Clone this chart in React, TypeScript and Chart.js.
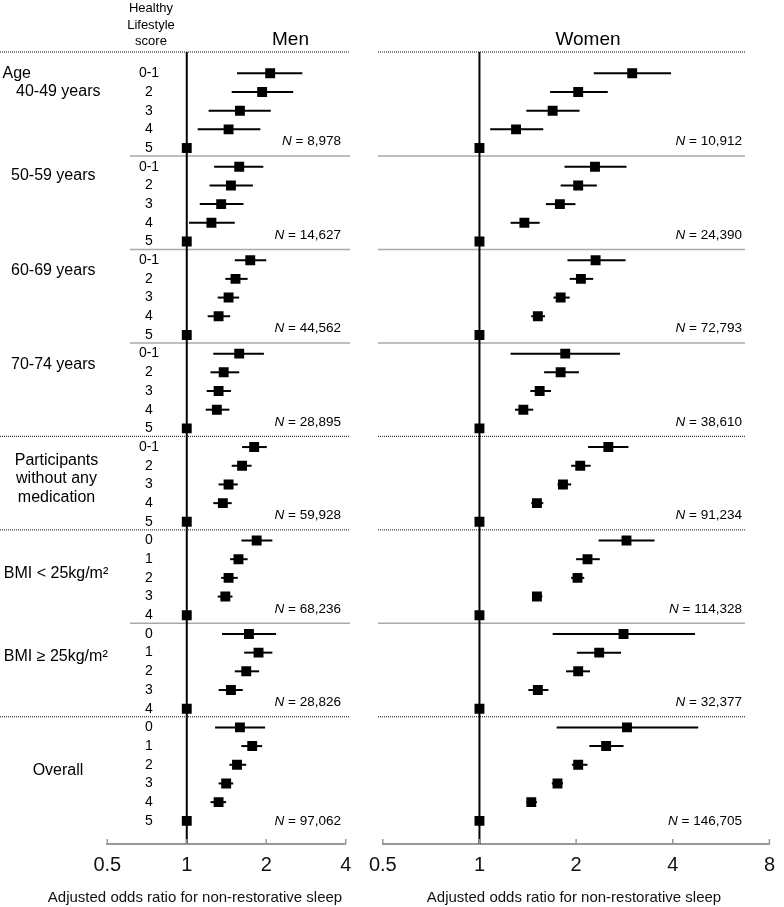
import React, { useEffect, useRef } from 'react';
import { Chart, registerables } from 'chart.js';

Chart.register(...registerables);

const FONT = '"Liberation Sans", Arial, Helvetica, sans-serif';

// ---------------- data ----------------
const ageScores = ['0-1', '2', '3', '4', '5'];
const bmiScores = ['0', '1', '2', '3', '4'];
const overallScores = ['0', '1', '2', '3', '4', '5'];
const groupScores = [ageScores, ageScores, ageScores, ageScores, ageScores, bmiScores, bmiScores, overallScores];
const groupNames = [
  ['Age', '40-49 years'],
  ['50-59 years'],
  ['60-69 years'],
  ['70-74 years'],
  ['Participants', 'without any', 'medication'],
  ['BMI < 25kg/m²'],
  ['BMI ≥ 25kg/m²'],
  ['Overall'],
];
const menN = ['8,978', '14,627', '44,562', '28,895', '59,928', '68,236', '28,826', '97,062'];
const womenN = ['10,912', '24,390', '72,793', '38,610', '91,234', '114,328', '32,377', '146,705'];

const menOR = [
  2.07, 1.93, 1.59, 1.44, 1,
  1.58, 1.47, 1.35, 1.24, 1,
  1.74, 1.53, 1.44, 1.32, 1,
  1.58, 1.38, 1.32, 1.30, 1,
  1.80, 1.62, 1.44, 1.37, 1,
  1.84, 1.57, 1.44, 1.40, 1,
  1.72, 1.87, 1.68, 1.47, 1,
  1.59, 1.77, 1.55, 1.41, 1.32, 1,
];
const menLo = [
  1.55, 1.48, 1.21, 1.10, 1,
  1.27, 1.22, 1.12, 1.02, 1,
  1.52, 1.40, 1.31, 1.20, 1,
  1.26, 1.23, 1.19, 1.18, 1,
  1.62, 1.48, 1.32, 1.26, 1,
  1.61, 1.46, 1.35, 1.31, 1,
  1.36, 1.65, 1.52, 1.32, 1,
  1.28, 1.61, 1.45, 1.32, 1.23, 1,
];
const menHi = [
  2.74, 2.53, 2.08, 1.90, 1,
  1.95, 1.78, 1.64, 1.52, 1,
  2.00, 1.70, 1.58, 1.46, 1,
  1.96, 1.58, 1.47, 1.45, 1,
  2.01, 1.76, 1.56, 1.48, 1,
  2.11, 1.70, 1.56, 1.49, 1,
  2.18, 2.11, 1.88, 1.63, 1,
  1.98, 1.93, 1.68, 1.50, 1.41, 1,
];
const womenOR = [
  2.99, 2.03, 1.69, 1.30, 1,
  2.29, 2.03, 1.78, 1.38, 1,
  2.30, 2.07, 1.79, 1.52, 1,
  1.85, 1.79, 1.54, 1.37, 1,
  2.52, 2.06, 1.82, 1.51, 1,
  2.87, 2.17, 2.02, 1.51, 1,
  2.81, 2.36, 2.03, 1.52, 1,
  2.88, 2.48, 2.03, 1.75, 1.45, 1,
];
const womenLo = [
  2.27, 1.66, 1.40, 1.08, 1,
  1.84, 1.79, 1.61, 1.25, 1,
  1.88, 1.91, 1.70, 1.45, 1,
  1.25, 1.59, 1.44, 1.29, 1,
  2.18, 1.93, 1.75, 1.45, 1,
  2.35, 2.00, 1.93, 1.46, 1,
  1.69, 2.01, 1.86, 1.42, 1,
  1.74, 2.20, 1.94, 1.68, 1.40, 1,
];
const womenHi = [
  3.95, 2.51, 2.05, 1.58, 1,
  2.87, 2.32, 1.99, 1.54, 1,
  2.85, 2.26, 1.91, 1.60, 1,
  2.74, 2.04, 1.67, 1.47, 1,
  2.91, 2.22, 1.93, 1.58, 1,
  3.51, 2.37, 2.12, 1.57, 1,
  4.69, 2.76, 2.21, 1.64, 1,
  4.80, 2.81, 2.17, 1.82, 1.51, 1,
];
const xTicksMen = [0.5, 1, 2, 4];
const xTicksWomen = [0.5, 1, 2, 4, 8];
const axisTitle = 'Adjusted odds ratio for non-restorative sleep';
const headerLines = ['Healthy', 'Lifestyle', 'score'];

// ---------------- layout ----------------
const W = 784;
const H = 907;
const PLOT_TOP = 52;
const PLOT_BOTTOM = 844;
const Y_MIN = -1.14;
const Y_MAX = 41.24;
const separatorKinds = ['solid', 'solid', 'solid', 'dotted', 'dotted', 'solid', 'dotted'];
const groupLabelLayout = [
  [{ x: 2.5, dy: 0, align: 'left' }, { x: 16, dy: 1, align: 'left' }],
  [{ x: 11, dy: 0.5, align: 'left' }],
  [{ x: 11, dy: 0.55, align: 'left' }],
  [{ x: 11, dy: 0.6, align: 'left' }],
  [{ x: 56.5, dy: 0.7, align: 'center' }, { x: 56.5, dy: 1.7, align: 'center' }, { x: 56.5, dy: 2.7, align: 'center' }],
  [{ x: 3.8, dy: 1.76, align: 'left' }],
  [{ x: 3.8, dy: 1.22, align: 'left' }],
  [{ x: 58, dy: 2.33, align: 'center' }],
];

const groupStart: number[] = [];
let acc = 0;
groupScores.forEach((s) => {
  groupStart.push(acc);
  acc += s.length;
});

const panels = {
  men: {
    title: 'Men', titleX: 290.5, or: menOR, lo: menLo, hi: menHi, n: menN, ticks: xTicksMen, max: 4,
    padLeft: 107.3, padRight: W - 345.7, lineX0Dotted: 0, lineX0Solid: 130, lineX1: 350,
    nRight: 341, axisTitleX: 195, left: true,
  },
  women: {
    title: 'Women', titleX: 588, or: womenOR, lo: womenLo, hi: womenHi, n: womenN, ticks: xTicksWomen, max: 8,
    padLeft: 382.8, padRight: W - 777.3, lineX0Dotted: 378, lineX0Solid: 378, lineX1: 745,
    nRight: 742, axisTitleX: 574, left: false,
  },
};

function font(size: number, style = '') {
  return `${style ? style + ' ' : ''}${size}px ${FONT}`;
}

function makePlugin(p: any) {
  return {
    id: 'forest_' + p.title,
    beforeDatasetsDraw(chart: any) {
      const { ctx, chartArea } = chart;
      const x = chart.scales.x;
      const y = chart.scales.y;
      ctx.save();
      const drawSep = (yy: number, kind: string) => {
        ctx.beginPath();
        if (kind === 'dotted') {
          ctx.setLineDash([1, 1]);
          ctx.strokeStyle = '#333';
          ctx.lineWidth = 1.2;
          ctx.moveTo(p.lineX0Dotted, yy);
        } else {
          ctx.setLineDash([]);
          ctx.strokeStyle = '#aaa';
          ctx.lineWidth = 1.5;
          ctx.moveTo(p.lineX0Solid, yy);
        }
        ctx.lineTo(p.lineX1, yy);
        ctx.stroke();
      };
      drawSep(chartArea.top, 'dotted');
      separatorKinds.forEach((k, g) => {
        const last = groupStart[g] + groupScores[g].length - 1;
        drawSep(y.getPixelForValue(last + 0.43), k);
      });
      ctx.setLineDash([]);
      ctx.strokeStyle = '#000';
      ctx.lineWidth = 2;
      p.or.forEach((_v: number, i: number) => {
        if (p.hi[i] > p.lo[i]) {
          const yy = y.getPixelForValue(i);
          ctx.beginPath();
          ctx.moveTo(x.getPixelForValue(p.lo[i]), yy);
          ctx.lineTo(x.getPixelForValue(p.hi[i]), yy);
          ctx.stroke();
        }
      });
      const x1 = x.getPixelForValue(1);
      ctx.beginPath();
      ctx.moveTo(x1, chartArea.top);
      ctx.lineTo(x1, chartArea.bottom);
      ctx.stroke();
      ctx.restore();
    },
    afterDraw(chart: any) {
      const { ctx, chartArea } = chart;
      const x = chart.scales.x;
      const y = chart.scales.y;
      ctx.save();
      // upward tick marks on axis
      ctx.strokeStyle = '#999';
      ctx.lineWidth = 1.5;
      p.ticks.forEach((v: number) => {
        const xx = x.getPixelForValue(v);
        ctx.beginPath();
        ctx.moveTo(xx, chartArea.bottom);
        ctx.lineTo(xx, chartArea.bottom - 5);
        ctx.stroke();
      });
      ctx.fillStyle = '#000';
      // panel title
      ctx.font = font(19);
      ctx.textAlign = 'center';
      ctx.textBaseline = 'alphabetic';
      ctx.fillText(p.title, p.titleX, 45);
      // axis title
      ctx.font = font(15);
      ctx.fillStyle = '#111';
      ctx.fillText(axisTitle, p.axisTitleX, 901.5);
      // N labels
      ctx.fillStyle = '#000';
      ctx.textBaseline = 'middle';
      p.n.forEach((txt: string, g: number) => {
        const last = groupStart[g] + groupScores[g].length - 1;
        const row = g === groupScores.length - 1 ? last : last - 0.34;
        const yy = y.getPixelForValue(row);
        const rest = ' = ' + txt;
        ctx.font = font(13.5);
        const rw = ctx.measureText(rest).width;
        ctx.textAlign = 'right';
        ctx.fillText(rest, p.nRight, yy);
        ctx.font = font(13.5, 'italic');
        ctx.fillText('N', p.nRight - rw, yy);
      });
      if (p.left) {
        // header
        ctx.font = font(13);
        ctx.textAlign = 'center';
        ctx.textBaseline = 'alphabetic';
        const hb = [12, 28.7, 45.3];
        headerLines.forEach((t, i) => ctx.fillText(t, 151, hb[i]));
        // group labels
        ctx.font = font(16);
        ctx.textBaseline = 'middle';
        groupNames.forEach((lines, g) => {
          lines.forEach((t, k) => {
            const lay = groupLabelLayout[g][k];
            ctx.textAlign = lay.align;
            ctx.fillText(t, lay.x, y.getPixelForValue(groupStart[g] + lay.dy));
          });
        });
        // score labels
        ctx.font = font(14);
        ctx.textAlign = 'center';
        groupScores.forEach((scores, g) => {
          scores.forEach((s, k) => {
            ctx.fillText(s, 149, y.getPixelForValue(groupStart[g] + k));
          });
        });
      }
      ctx.restore();
    },
  };
}

function makeConfig(p: any): any {
  return {
    type: 'scatter',
    data: {
      datasets: [
        {
          data: p.or.map((v: number, i: number) => ({ x: v, y: i })),
          pointStyle: 'rect',
          pointRadius: 7,
          pointHoverRadius: 7,
          backgroundColor: '#000',
          borderColor: '#000',
          borderWidth: 0,
        },
      ],
    },
    options: {
      responsive: false,
      animation: false,
      devicePixelRatio: 1,
      events: [],
      layout: { padding: { left: p.padLeft, right: p.padRight, top: PLOT_TOP, bottom: 0 } },
      plugins: { legend: { display: false }, tooltip: { enabled: false } },
      scales: {
        x: {
          type: 'logarithmic',
          min: 0.5,
          max: p.max,
          afterBuildTicks: (s: any) => {
            s.ticks = p.ticks.map((v: number) => ({ value: v }));
          },
          afterFit: (s: any) => {
            s.height = H - PLOT_BOTTOM;
          },
          ticks: {
            autoSkip: false,
            maxRotation: 0,
            padding: 9,
            color: '#111',
            font: { family: FONT, size: 20 },
            callback: (v: any) => String(v),
          },
          grid: { display: true, drawOnChartArea: false, drawTicks: false },
          border: { display: true, color: '#999', width: 2 },
        },
        y: { type: 'linear', reverse: true, min: Y_MIN, max: Y_MAX, display: false },
      },
    },
    plugins: [makePlugin(p)],
  };
}

export default function App() {
  const menRef = useRef<HTMLCanvasElement>(null);
  const womenRef = useRef<HTMLCanvasElement>(null);
  useEffect(() => {
    const charts = [
      new Chart(menRef.current as HTMLCanvasElement, makeConfig(panels.men)),
      new Chart(womenRef.current as HTMLCanvasElement, makeConfig(panels.women)),
    ];
    return () => charts.forEach((c) => c.destroy());
  }, []);
  return (
    <div style={{ position: 'absolute', left: 0, top: 0, width: W, height: H, background: '#fff' }}>
      <canvas ref={menRef} width={W} height={H} style={{ position: 'absolute', left: 0, top: 0 }} />
      <canvas ref={womenRef} width={W} height={H} style={{ position: 'absolute', left: 0, top: 0 }} />
    </div>
  );
}
